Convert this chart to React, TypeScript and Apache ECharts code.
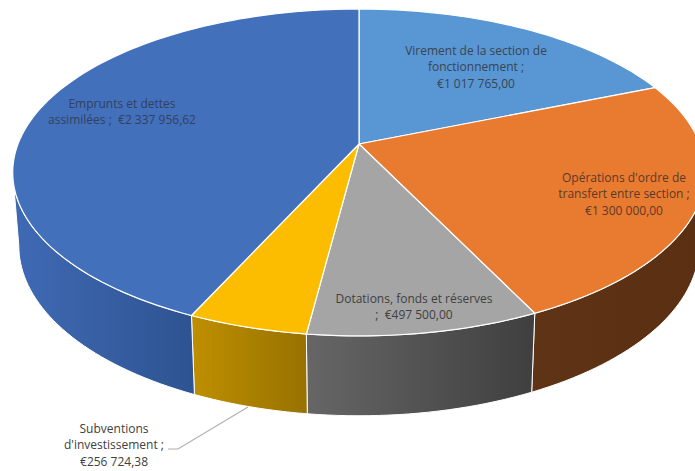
import React, { useEffect, useRef } from "react";
import * as echarts from "echarts";

const categories = [
  "Virement de la section de fonctionnement",
  "Opérations d'ordre de transfert entre section",
  "Dotations, fonds et réserves",
  "Subventions d'investissement",
  "Emprunts et dettes assimilées",
];
const values = [1017765.0, 1300000.0, 497500.0, 256724.38, 2337956.62];
const labelLines = [
  ["Virement de la section de", "fonctionnement ;", "€1 017 765,00"],
  ["Opérations d'ordre de", "transfert entre section ;", "€1 300 000,00"],
  ["Dotations, fonds et réserves", ";  €497 500,00"],
  ["Subventions", "d'investissement ;", "€256 724,38"],
  ["Emprunts et dettes", "assimilées ;  €2 337 956,62"],
];

const topColors = ["#5897d3", "#e97b30", "#a5a5a5", "#fcbd00", "#4270bb"];
const sideStops = [
  ["#5897d3", "#5897d3"],
  ["#5f3315", "#5a2f12"],
  ["#666666", "#3f3f3f"],
  ["#bf8f00", "#977200"],
  ["#3f6ab4", "#2e5391"],
];
const labelColors = ["#3a4452", "#5a3a2a", "#3f3f3f", "#404040", "#33415f"];
const labelCenters = [
  [476, 50],
  [624, 177],
  [414, 298],
  [114, 428],
  [122, 103],
];

const CX = 359;
const TILT = 0.174;
const TOP = { y0: 144, a: 341, b: 158.5 };
const BOTTOM = { y0: 216, a: 335, b: 165 };
const LINE_HEIGHT = 16.5;
const SIDE_FROM = 100;
const SIDE_TO = 260;

const total = values.reduce((s, v) => s + v, 0);
const starts: number[] = [];
values.reduce((acc, v, i) => {
  starts[i] = (acc / total) * 360;
  return acc + v;
}, 0);

function project(deg: number, p: { y0: number; a: number; b: number }) {
  const r = (deg * Math.PI) / 180;
  const v = -Math.cos(r);
  const w = 1 - TILT * v;
  return [CX + (p.a * Math.sin(r)) / w, p.y0 + (p.b * v) / w];
}

function arc(from: number, to: number, p: { y0: number; a: number; b: number }) {
  const pts: number[][] = [];
  const n = Math.max(2, Math.ceil((to - from) / 1.5));
  for (let i = 0; i <= n; i++) pts.push(project(from + ((to - from) * i) / n, p));
  return pts;
}

function range(i: number) {
  return [starts[i], starts[i] + (values[i] / total) * 360];
}

export default function App() {
  const ref = useRef<HTMLDivElement>(null);
  useEffect(() => {
    document.body.style.margin = "0";
    const chart = echarts.init(ref.current!, null, { renderer: "svg" });
    chart.setOption({
      animation: false,
      backgroundColor: "#ffffff",
      series: [
        {
          type: "custom",
          coordinateSystem: "none",
          silent: true,
          z: 1,
          data: values,
          renderItem: (params: any) => {
            const i = params.dataIndex;
            const [a0, a1] = range(i);
            const from = Math.max(a0, SIDE_FROM);
            const to = Math.min(a1, SIDE_TO);
            if (to <= from) return { type: "group", children: [] };
            const points = [...arc(from, to, TOP), ...arc(from, to, BOTTOM).reverse()];
            return {
              type: "polygon",
              shape: { points },
              style: {
                fill: new echarts.graphic.LinearGradient(0, 0, 1, 0, [
                  { offset: 0, color: sideStops[i][0] },
                  { offset: 1, color: sideStops[i][1] },
                ]),
                stroke: "#ffffff",
                lineWidth: 1,
              },
            };
          },
        },
        {
          type: "custom",
          coordinateSystem: "none",
          silent: true,
          z: 2,
          data: values,
          renderItem: (params: any) => {
            const i = params.dataIndex;
            const [a0, a1] = range(i);
            const apex = [CX, TOP.y0];
            return {
              type: "polygon",
              shape: { points: [apex, ...arc(a0, a1, TOP)] },
              style: { fill: topColors[i], stroke: "#ffffff", lineWidth: 1.2 },
            };
          },
        },
        {
          type: "custom",
          coordinateSystem: "none",
          silent: true,
          z: 3,
          data: values,
          renderItem: (params: any) => {
            const i = params.dataIndex;
            const [x, y] = labelCenters[i];
            return {
              type: "group",
              children: labelLines[i].map((t, k) => ({
                type: "text",
                x,
                y: y + k * LINE_HEIGHT,
                style: {
                  text: t,
                  fill: labelColors[i],
                  font: '12px "Open Sans", sans-serif',
                  align: "center",
                  verticalAlign: "middle",
                },
              })),
            };
          },
        },
      ],
      graphic: [
        {
          type: "polyline",
          z: 4,
          silent: true,
          shape: { points: [[168, 449], [178, 449], [248, 407]] },
          style: { stroke: "#b0b0b0", lineWidth: 1.2, fill: "none" },
        },
      ],
    });
    return () => chart.dispose();
  }, []);
  return <div ref={ref} style={{ width: 695, height: 471 }} aria-label={categories.join(", ")} />;
}
